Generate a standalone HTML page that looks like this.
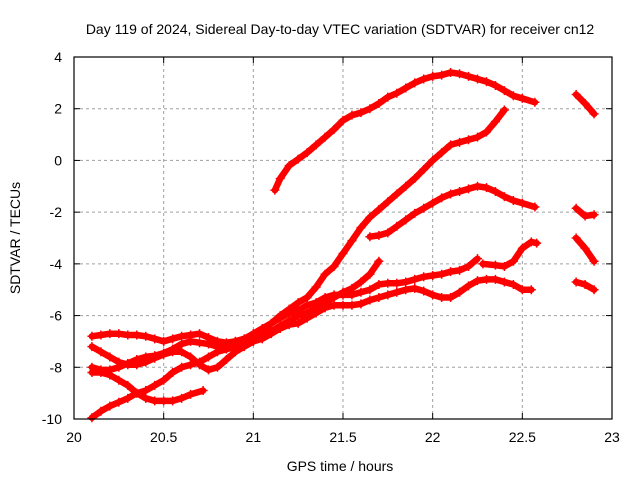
<!DOCTYPE html>
<html><head><meta charset="utf-8"><style>
body{margin:0;background:#fff;}
svg{display:block;font-family:"Liberation Sans",sans-serif;}
</style></head><body>
<svg id="chart" width="640" height="480" viewBox="0 0 640 480">
<text x="340" y="34" text-anchor="middle" font-size="14">Day 119 of 2024, Sidereal Day-to-day VTEC variation (SDTVAR) for receiver cn12</text>
<text x="340" y="471" text-anchor="middle" font-size="14">GPS time / hours</text>
<text transform="translate(20,238) rotate(-90)" text-anchor="middle" font-size="14">SDTVAR / TECUs</text>
<g id="grid"></g>
<g id="ticks"></g>
<g id="series"></g>
<rect x="74" y="57" width="538" height="362" fill="none" stroke="#000" stroke-width="1.2"/>
</svg>
<script>
const xTicks=[20,20.5,21,21.5,22,22.5,23];
const xTickLabels=["20","20.5","21","21.5","22","22.5","23"];
const yTicks=[4,2,0,-2,-4,-6,-8,-10];
const yTickLabels=["4","2","0","-2","-4","-6","-8","-10"];
const tA=[21.12,21.15,21.2,21.25,21.3,21.35,21.4,21.45,21.5,21.55,21.6,21.65,21.7,21.75,21.8,21.85,21.9,21.95,22.0,22.05,22.1,22.15,22.2,22.25,22.3,22.35,22.4,22.45,22.5,22.57];
const vA=[-1.15,-0.7,-0.2,0.05,0.3,0.6,0.9,1.2,1.55,1.75,1.85,2.0,2.2,2.45,2.6,2.8,3.0,3.15,3.25,3.3,3.4,3.35,3.25,3.15,3.05,2.9,2.7,2.5,2.4,2.25];
const tA2=[22.8,22.85,22.9];
const vA2=[2.55,2.2,1.8];
const tB=[20.1,20.15,20.2,20.25,20.3,20.35,20.4,20.45,20.5,20.55,20.6,20.65,20.7,20.75,20.8,20.85,20.9,20.95,21.0,21.05,21.1,21.15,21.2,21.25,21.3,21.35,21.4,21.45,21.5,21.55,21.6,21.65,21.7,21.75,21.8,21.85,21.9,21.95,22.0,22.05,22.1,22.15,22.2,22.25,22.3,22.35,22.4];
const vB=[-6.8,-6.75,-6.7,-6.7,-6.75,-6.75,-6.8,-6.9,-7.0,-6.9,-6.8,-6.75,-6.7,-6.85,-7.0,-7.05,-7.0,-6.9,-6.75,-6.55,-6.3,-6.0,-5.75,-5.5,-5.3,-4.9,-4.4,-4.1,-3.6,-3.1,-2.6,-2.2,-1.9,-1.6,-1.3,-1.0,-0.7,-0.35,0.0,0.3,0.6,0.7,0.8,0.9,1.1,1.5,1.95];
const tF=[20.1,20.15,20.2,20.25,20.3,20.35,20.4,20.45,20.5,20.55,20.6,20.65,20.7,20.75,20.8,20.85,20.9,20.95,21.0,21.05,21.1,21.15,21.2,21.25,21.3,21.35,21.4,21.45,21.5,21.55,21.6,21.65,21.7];
const vF=[-7.2,-7.4,-7.6,-7.8,-7.9,-7.9,-7.8,-7.65,-7.5,-7.4,-7.4,-7.6,-7.9,-8.1,-8.0,-7.7,-7.4,-7.2,-7.0,-6.8,-6.6,-6.4,-6.2,-6.0,-5.9,-5.7,-5.5,-5.3,-5.1,-4.95,-4.7,-4.4,-3.9];
const tD=[20.1,20.15,20.2,20.25,20.3,20.35,20.4,20.45,20.5,20.55,20.6,20.65,20.7,20.75,20.8,20.85,20.9,20.95,21.0,21.05,21.1,21.15,21.2,21.25,21.3,21.35,21.4,21.45,21.5,21.55,21.6,21.65,21.7,21.75,21.8,21.85,21.9,21.95,22.0,22.05,22.1,22.15,22.2,22.25];
const vD=[-8.0,-8.1,-8.1,-8.0,-7.85,-7.7,-7.6,-7.55,-7.45,-7.3,-7.1,-7.0,-7.05,-7.1,-7.2,-7.1,-7.0,-6.9,-6.7,-6.5,-6.3,-6.1,-5.9,-5.8,-5.6,-5.5,-5.3,-5.2,-5.2,-5.2,-5.1,-5.0,-4.8,-4.75,-4.75,-4.7,-4.6,-4.5,-4.45,-4.4,-4.3,-4.25,-4.1,-3.8];
const tD2=[22.28,22.35,22.4,22.45,22.5,22.55,22.58];
const vD2=[-4.0,-4.05,-4.1,-3.9,-3.4,-3.15,-3.2];
const tD3=[22.8,22.85,22.9];
const vD3=[-3.0,-3.4,-3.9];
const tG=[20.1,20.15,20.2,20.25,20.3,20.35,20.4,20.45,20.5,20.55,20.6,20.65,20.72];
const vG=[-8.2,-8.2,-8.3,-8.5,-8.7,-9.0,-9.2,-9.3,-9.3,-9.3,-9.2,-9.05,-8.9];
const tE=[20.1,20.15,20.2,20.25,20.3,20.35,20.4,20.45,20.5,20.55,20.6,20.65,20.7,20.75,20.8,20.85,20.9,20.95,21.0,21.05,21.1,21.15,21.2,21.25,21.3,21.35,21.4,21.45,21.5,21.55,21.6,21.65,21.7,21.75,21.8,21.85,21.9,21.95,22.0,22.05,22.1,22.15,22.2,22.25,22.3,22.35,22.4,22.45,22.5,22.55];
const vE=[-9.95,-9.7,-9.5,-9.35,-9.2,-9.0,-8.9,-8.7,-8.5,-8.2,-8.0,-7.9,-7.8,-7.6,-7.4,-7.3,-7.2,-7.1,-7.0,-6.9,-6.7,-6.5,-6.35,-6.3,-6.1,-5.9,-5.7,-5.6,-5.6,-5.6,-5.55,-5.4,-5.3,-5.2,-5.1,-5.0,-4.95,-5.05,-5.2,-5.3,-5.3,-5.1,-4.85,-4.65,-4.6,-4.6,-4.7,-4.8,-5.0,-5.0];
const tE2=[22.8,22.85,22.9];
const vE2=[-4.7,-4.8,-5.0];
const tC=[21.65,21.7,21.75,21.8,21.85,21.9,21.95,22.0,22.05,22.1,22.15,22.2,22.25,22.3,22.35,22.4,22.45,22.5,22.57];
const vC=[-2.95,-2.9,-2.8,-2.55,-2.3,-2.05,-1.85,-1.65,-1.45,-1.3,-1.2,-1.1,-1.0,-1.05,-1.2,-1.4,-1.55,-1.65,-1.8];
const tC2=[22.8,22.85,22.9];
const vC2=[-1.85,-2.15,-2.1];

const L=74,R=612,T=57,B=419;
const xs=h=>L+(h-20)/3*(R-L);
const ys=v=>T+(4-v)/14*(B-T);
const NS="http://www.w3.org/2000/svg";
const grid=document.getElementById('grid'),ticks=document.getElementById('ticks'),ser=document.getElementById('series');
function mk(tag,attrs,parent){const e=document.createElementNS(NS,tag);for(const k in attrs)e.setAttribute(k,attrs[k]);parent.appendChild(e);return e;}
xTicks.forEach((t,i)=>{const x=xs(t);
 if(i>0&&i<xTicks.length-1){const g=mk('line',{x1:x,x2:x,y1:T,y2:B,stroke:'#a0a0a0','stroke-dasharray':'3,3'},grid);
 
 }
 mk('line',{x1:x,x2:x,y1:B,y2:B-6,stroke:'#000'},ticks);mk('line',{x1:x,x2:x,y1:T,y2:T+6,stroke:'#000'},ticks);
 const tx=mk('text',{x:x,y:B+23,'text-anchor':'middle','font-size':'14'},ticks);tx.textContent=xTickLabels[i];
 
 });
yTicks.forEach((t,i)=>{const y=ys(t);
 if(i>0&&i<yTicks.length-1){const g=mk('line',{x1:L,x2:R,y1:y,y2:y,stroke:'#a0a0a0','stroke-dasharray':'3,3'},grid);
 
 }
 mk('line',{x1:L,x2:L+6,y1:y,y2:y,stroke:'#000'},ticks);mk('line',{x1:R,x2:R-6,y1:y,y2:y,stroke:'#000'},ticks);
 const tx=mk('text',{x:L-12,y:y+5,'text-anchor':'end','font-size':'14'},ticks);tx.textContent=yTickLabels[i];
 
 });
const segs=[[tA,vA],[tA2,vA2],[tB,vB],[tF,vF],[tD,vD],[tD2,vD2],[tD3,vD3],[tG,vG],[tE,vE],[tE2,vE2],[tC,vC],[tC2,vC2]];
segs.forEach(([t,v])=>{
 const pts=t.map((h,i)=>xs(h).toFixed(1)+','+ys(v[i]).toFixed(1)).join(' ');
 const pl=mk('polyline',{points:pts,fill:'none',stroke:'#ff0000','stroke-width':'6.5','stroke-linejoin':'round','stroke-linecap':'round'},ser);
 
 
 t.forEach((h,i)=>{const x=xs(h),y=ys(v[i]);
  const p=mk('path',{d:`M${x-4.5},${y}h9M${x},${y-4.5}v9`,stroke:'#ff0000','stroke-width':'1.5',fill:'none'},ser);
  
  });
});
</script>
</body></html>
